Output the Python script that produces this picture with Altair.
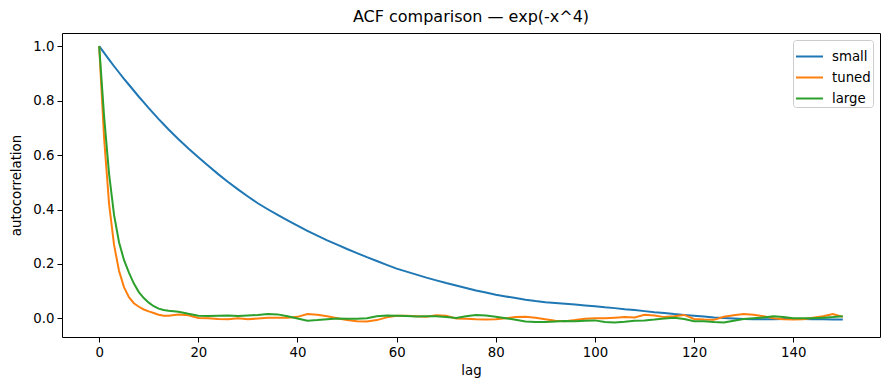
import altair as alt
import pandas as pd

lags = list(range(0, 15)) + list(range(16, 151, 2))

small = [1.000, 0.975, 0.950, 0.926, 0.903, 0.880, 0.858, 0.836, 0.814, 0.793,
         0.772, 0.752, 0.732, 0.713, 0.694,
         0.658, 0.624, 0.592, 0.561, 0.530, 0.501, 0.474, 0.448, 0.423, 0.401,
         0.380, 0.360, 0.341, 0.322, 0.304, 0.287, 0.271, 0.255, 0.240, 0.225,
         0.211, 0.197, 0.183, 0.172, 0.161, 0.150, 0.140, 0.130, 0.121, 0.112,
         0.103, 0.095, 0.087, 0.081, 0.075, 0.069, 0.064, 0.060, 0.057, 0.054,
         0.051, 0.048, 0.045, 0.041, 0.038, 0.034, 0.031, 0.027, 0.023, 0.020,
         0.016, 0.013, 0.010, 0.007, 0.004, 0.002, 0.000, -0.002, -0.003, -0.003,
         -0.003, -0.002, -0.002, -0.002, -0.003, -0.003, -0.004, -0.004]

tuned = [1.000, 0.660, 0.420, 0.270, 0.175, 0.115, 0.078, 0.056, 0.043, 0.033,
         0.026, 0.020, 0.014, 0.010, 0.010,
         0.015, 0.012, 0.002, 0.001, -0.002, -0.003, 0.001, -0.003, 0.000, 0.003,
         0.003, 0.003, 0.006, 0.016, 0.014, 0.008, 0.001, -0.006, -0.010, -0.011,
         -0.006, 0.004, 0.010, 0.010, 0.008, 0.006, 0.012, 0.010, 0.000, -0.001,
         -0.003, -0.004, -0.003, 0.001, 0.005, 0.006, 0.003, -0.003, -0.008, -0.010,
         -0.006, -0.001, 0.001, 0.001, 0.003, 0.005, 0.004, 0.014, 0.011, 0.005,
         0.008, 0.013, -0.002, -0.004, -0.005, 0.006, 0.012, 0.016, 0.014, 0.008,
         0.001, -0.003, -0.004, -0.003, 0.003, 0.008, 0.016, 0.006]

large = [1.000, 0.740, 0.530, 0.380, 0.280, 0.215, 0.168, 0.128, 0.097, 0.075,
         0.058, 0.045, 0.036, 0.031, 0.028,
         0.025, 0.017, 0.010, 0.009, 0.010, 0.011, 0.009, 0.011, 0.013, 0.016,
         0.015, 0.008, 0.000, -0.008, -0.006, -0.003, 0.000, -0.001, -0.001, 0.001,
         0.008, 0.011, 0.010, 0.009, 0.007, 0.008, 0.008, 0.005, 0.002, 0.008,
         0.013, 0.011, 0.006, 0.001, -0.005, -0.011, -0.013, -0.013, -0.011, -0.009,
         -0.010, -0.008, -0.007, -0.013, -0.015, -0.012, -0.008, -0.007, -0.004, 0.000,
         0.003, -0.002, -0.010, -0.010, -0.013, -0.015, -0.008, -0.002, 0.001, 0.004,
         0.008, 0.005, 0.001, 0.001, 0.001, 0.003, 0.005, 0.008]

series_names = ["small", "tuned", "large"]
series_colors = ["#1f77b4", "#ff7f0e", "#2ca02c"]
x_ticks = [0, 20, 40, 60, 80, 100, 120, 140]
y_ticks = [0.0, 0.2, 0.4, 0.6, 0.8, 1.0]

rows = []
for name, vals in zip(series_names, [small, tuned, large]):
    for i, (l, v) in enumerate(zip(lags, vals)):
        rows.append({"lag": l, "acf": v, "series": name, "order": i})
df = pd.DataFrame(rows)

FONT = "DejaVu Sans"

chart = alt.Chart(df).mark_line(strokeWidth=2).encode(
    x=alt.X("lag:Q",
            scale=alt.Scale(domain=[-7.5, 157.5], nice=False, zero=False),
            axis=alt.Axis(values=x_ticks, title="lag", format="d",
                          titlePadding=5)),
    y=alt.Y("acf:Q",
            scale=alt.Scale(domain=[-0.068, 1.048], nice=False, zero=False),
            axis=alt.Axis(values=y_ticks, title="autocorrelation", format=".1f",
                          titlePadding=9)),
    color=alt.Color("series:N",
                    scale=alt.Scale(domain=series_names, range=series_colors),
                    legend=alt.Legend(title=None, orient="top-right", offset=7,
                                      symbolType="stroke", symbolSize=729,
                                      symbolStrokeWidth=2, labelFontSize=13.3,
                                      labelFont=FONT, labelColor="black",
                                      strokeColor="#cccccc", fillColor="white",
                                      padding=2, cornerRadius=3, rowPadding=-1,
                                      labelOffset=8)),
    order="order:Q",
).properties(
    width=818,
    height=304,
    title=alt.TitleParams("ACF comparison — exp(-x^4)", font=FONT, fontSize=16,
                          fontWeight="normal", color="black", anchor="middle",
                          offset=8),
    autosize=alt.AutoSizeParams(type="none"),
    padding={"left": 54, "top": 25, "right": 1, "bottom": 45},
).configure_view(
    stroke="black", strokeWidth=1
).configure_axis(
    grid=False, domain=False, tickColor="black", tickSize=5, tickWidth=1,
    labelFont=FONT, labelFontSize=13.3, labelColor="black", labelPadding=3,
    titleFont=FONT, titleFontSize=13.3, titleFontWeight="normal", titleColor="black",
    labelFlush=False
)

chart.save("out.html", embed_options={"renderer": "svg", "actions": False})
